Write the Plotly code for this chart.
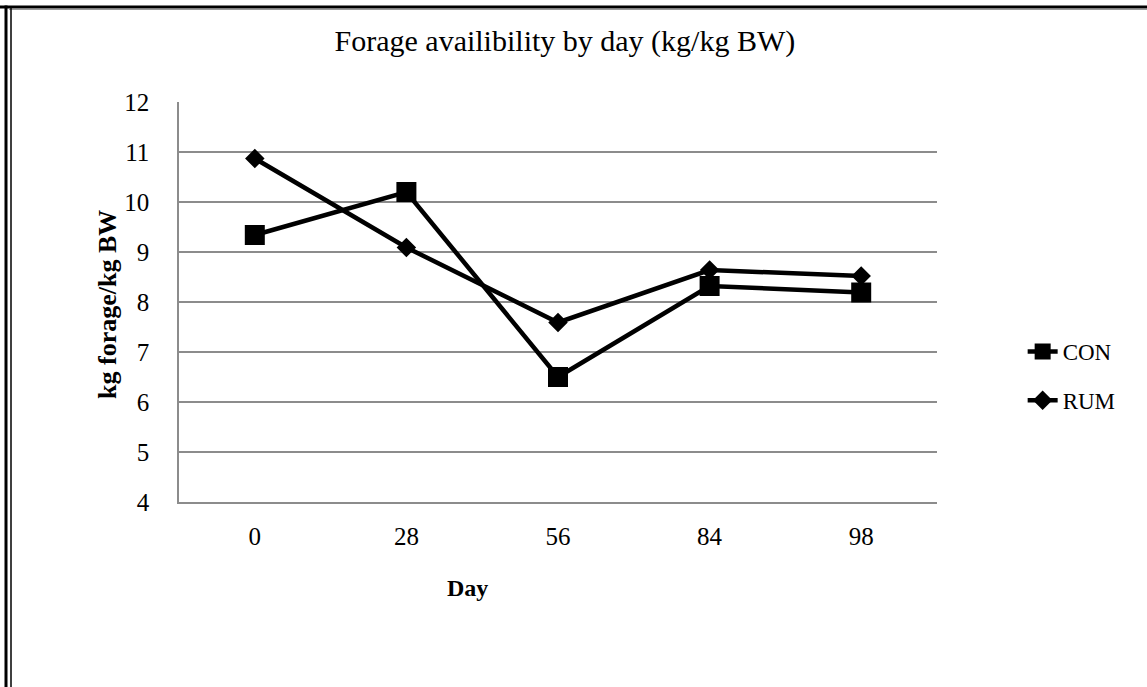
import plotly.graph_objects as go

# Sampling days (categorical axis) and forage availability per treatment
days = ["0", "28", "56", "84", "98"]
con_values = [9.34, 10.2, 6.5, 8.32, 8.19]
rum_values = [10.87, 9.09, 7.59, 8.64, 8.52]

y_ticks = [4, 5, 6, 7, 8, 9, 10, 11, 12]

FONT = "Liberation Serif, Times New Roman, serif"
GRID = "#8c8c8c"

fig = go.Figure()
fig.add_trace(go.Scatter(
    x=days, y=con_values, name="CON", mode="lines+markers",
    legendgroup="con",
    line=dict(color="black", width=4.5),
    marker=dict(symbol="square", size=20, color="black"),
))
fig.add_trace(go.Scatter(
    x=days, y=rum_values, name="RUM", mode="lines+markers",
    legendgroup="rum",
    line=dict(color="black", width=4.5),
    marker=dict(symbol="diamond", size=15, color="black"),
))

fig.update_layout(
    width=1147, height=687,
    margin=dict(l=179, r=210, t=102, b=185),
    paper_bgcolor="white", plot_bgcolor="white",
    font=dict(family=FONT, color="black", size=22),
    title=dict(text="Forage availibility by day (kg/kg BW)",
               x=0.4925, xanchor="center", xref="container",
               y=1 - 40 / 687, yanchor="middle", yref="container",
               font=dict(size=30, family=FONT)),
    showlegend=True,
    legend=dict(x=1.113, xanchor="left", y=0.315, yanchor="middle",
                font=dict(size=23, family=FONT),
                tracegroupgap=16, bgcolor="rgba(0,0,0,0)"),
    xaxis=dict(type="category", categoryorder="array", categoryarray=days,
               showgrid=False, showline=True, linecolor=GRID, linewidth=1.5,
               ticks="", ticklabelstandoff=11, tickfont=dict(size=25),
               range=[-0.5, 4.5], zeroline=False),
    yaxis=dict(range=[4, 12], tickvals=y_ticks, showgrid=True,
               gridcolor=GRID, gridwidth=1.5, showline=True,
               linecolor=GRID, linewidth=1.5, ticks="",
               ticklabelstandoff=23, tickfont=dict(size=25),
               zeroline=False),
)

# Axis titles
fig.add_annotation(text="<b>kg forage/kg BW</b>", xref="paper", yref="paper",
                   x=-0.095, y=0.495, xanchor="center", yanchor="middle",
                   showarrow=False, textangle=-90,
                   font=dict(size=26, family=FONT))
fig.add_annotation(text="<b>Day</b>", xref="paper", yref="paper",
                   x=0.381, y=-0.215, xanchor="center", yanchor="middle",
                   showarrow=False,
                   font=dict(size=24, family=FONT))

# Page frame: heavy rule on top and left, with thin inner rules
fig.add_shape(type="line", xref="paper", yref="paper",
              x0=-179 / 758, x1=(1147 - 179) / 758,
              y0=(502 - 7) / 400, y1=(502 - 7) / 400,
              line=dict(color="black", width=3))
fig.add_shape(type="line", xref="paper", yref="paper",
              x0=-170 / 758, x1=(1147 - 179) / 758,
              y0=(502 - 9.5) / 400, y1=(502 - 9.5) / 400,
              line=dict(color="#9a9a9a", width=1))
fig.add_shape(type="line", xref="paper", yref="paper",
              x0=-(179 - 6) / 758, x1=-(179 - 6) / 758,
              y0=(502 - 5.5) / 400, y1=-185 / 400,
              line=dict(color="black", width=3))
fig.add_shape(type="line", xref="paper", yref="paper",
              x0=-(179 - 11) / 758, x1=-(179 - 11) / 758,
              y0=(502 - 8) / 400, y1=-185 / 400,
              line=dict(color="black", width=1.5))

fig.write_html("out.html")
